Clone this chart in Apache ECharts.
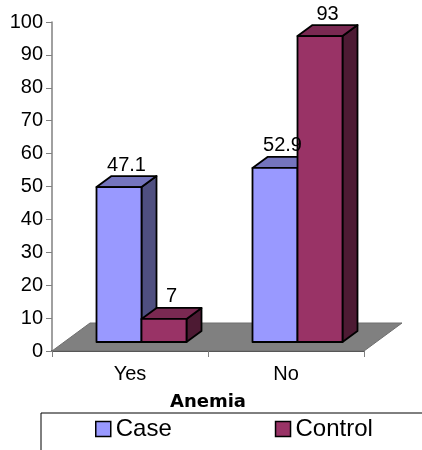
<!DOCTYPE html>
<html>

<head>
    <meta charset="utf-8">
    <title>Anemia</title>
    <script src="https://cdn.jsdelivr.net/npm/echarts@6/dist/echarts.min.js"></script>
    <style>
        html, body { margin: 0; padding: 0; background: #fff; }
        #main { width: 422px; height: 450px; }
    </style>
</head>

<body>
    <div id="main"></div>
    <script>
        const categories = ['Yes', 'No'];
        const caseValues = [47.1, 52.9];
        const controlValues = [7, 93];
        const yTicks = { min: 0, max: 100, interval: 10 };

        // fake 3D look, all in pixels
        const floorDx = 38, floorDy = 28;
        const baseLift = 9;
        const sideDx = 15, sideDy = 11;
        const barShift = 11.5;
        const barRatio = 45 / 156;

        const palette = {
            Case: { front: '#9999ff', top: '#7474bd', side: '#4f4f80' },
            Control: { front: '#993366', top: '#7a2952', side: '#4d1a33' }
        };

        function renderBar(colors, slot) {
            return function (params, api) {
                const cat = api.value(0), val = api.value(1);
                const p0 = api.coord([cat, 0]);
                const p1 = api.coord([cat, val]);
                const w = api.size([1, 0])[0] * barRatio;
                const left = p0[0] + barShift + (slot - 1) * w;
                const right = left + w;
                const base = p0[1] - baseLift;
                const top = p1[1] - baseLift;
                const line = { stroke: '#000', lineWidth: 1.8, lineJoin: 'round' };
                return {
                    type: 'group',
                    children: [
                        {
                            type: 'polygon',
                            shape: { points: [[right, top], [right + sideDx, top - sideDy], [right + sideDx, base - sideDy], [right, base]] },
                            style: Object.assign({ fill: colors.side }, line)
                        },
                        {
                            type: 'polygon',
                            shape: { points: [[left, top], [left + sideDx, top - sideDy], [right + sideDx, top - sideDy], [right, top]] },
                            style: Object.assign({ fill: colors.top }, line)
                        },
                        {
                            type: 'rect',
                            shape: { x: left, y: top, width: w, height: base - top },
                            style: Object.assign({ fill: colors.front }, line)
                        },
                        {
                            type: 'text',
                            z2: 100,
                            style: {
                                text: String(val),
                                x: left + (w + sideDx) / 2,
                                y: top - sideDy - 1,
                                align: 'center',
                                verticalAlign: 'bottom',
                                fill: '#000',
                                font: '20px "Liberation Sans"'
                            }
                        }
                    ]
                };
            };
        }

        function renderFloor(params, api) {
            const cs = params.coordSys;
            const y = api.coord([0, 0])[1];
            return {
                type: 'group',
                children: [
                    {
                        type: 'polygon',
                        shape: { points: [[cs.x, y], [cs.x + cs.width, y], [cs.x + cs.width + floorDx, y - floorDy], [cs.x + floorDx, y - floorDy]] },
                        style: { fill: '#808080', stroke: '#6e6e6e', lineWidth: 1 }
                    }
                ]
            };
        }

        const chart = echarts.init(document.getElementById('main'));
        chart.setOption({
            animation: false,
            textStyle: { fontFamily: '"Liberation Sans"' },
            grid: { left: 52, top: 22, width: 312, height: 329, containLabel: false },
            graphic: [{
                type: 'rect',
                z: 0,
                shape: { x: 41, y: 413, width: 400, height: 60 },
                style: { fill: '#fff', stroke: '#000', lineWidth: 1 }
            }],
            legend: {
                left: 95, top: 417,
                padding: 0,
                itemWidth: 15, itemHeight: 15, itemGap: 103,
                textStyle: { fontSize: 24, color: '#000', fontFamily: '"Liberation Sans"', padding: [0, 0, 11, 0] },
                data: [
                    { name: 'Case', icon: 'rect', itemStyle: { color: palette.Case.front, borderColor: '#000', borderWidth: 1.5 } },
                    { name: 'Control', icon: 'rect', itemStyle: { color: palette.Control.front, borderColor: '#000', borderWidth: 1.5 } }
                ]
            },
            xAxis: {
                type: 'category',
                data: categories,
                name: 'Anemia',
                nameLocation: 'middle',
                nameGap: 42,
                nameTextStyle: { fontSize: 18, fontWeight: 'bold', color: '#000', fontFamily: '"DejaVu Sans"' },
                axisLine: { lineStyle: { color: '#000', width: 1.5 } },
                axisTick: { show: true, length: 6, lineStyle: { color: '#808080', width: 1 } },
                axisLabel: { fontSize: 20, color: '#000', margin: 13 }
            },
            yAxis: {
                type: 'value',
                min: yTicks.min, max: yTicks.max, interval: yTicks.interval,
                splitLine: { show: false },
                axisLine: { show: true, lineStyle: { color: '#808080', width: 1.5 } },
                axisTick: { show: true, length: 6, lineStyle: { color: '#808080', width: 1 } },
                axisLabel: { fontSize: 20, color: '#000', margin: 9 }
            },
            series: [
                { type: 'custom', name: 'floor', z: 1, renderItem: renderFloor, silent: true, data: [[0, 0]] },
                { type: 'custom', name: 'Case', z: 2, renderItem: renderBar(palette.Case, 0), itemStyle: { color: palette.Case.front }, encode: { x: 0, y: 1 }, data: caseValues.map((v, i) => [i, v]) },
                { type: 'custom', name: 'Control', z: 2, renderItem: renderBar(palette.Control, 1), itemStyle: { color: palette.Control.front }, encode: { x: 0, y: 1 }, data: controlValues.map((v, i) => [i, v]) }
            ]
        });
    </script>
</body>

</html>
